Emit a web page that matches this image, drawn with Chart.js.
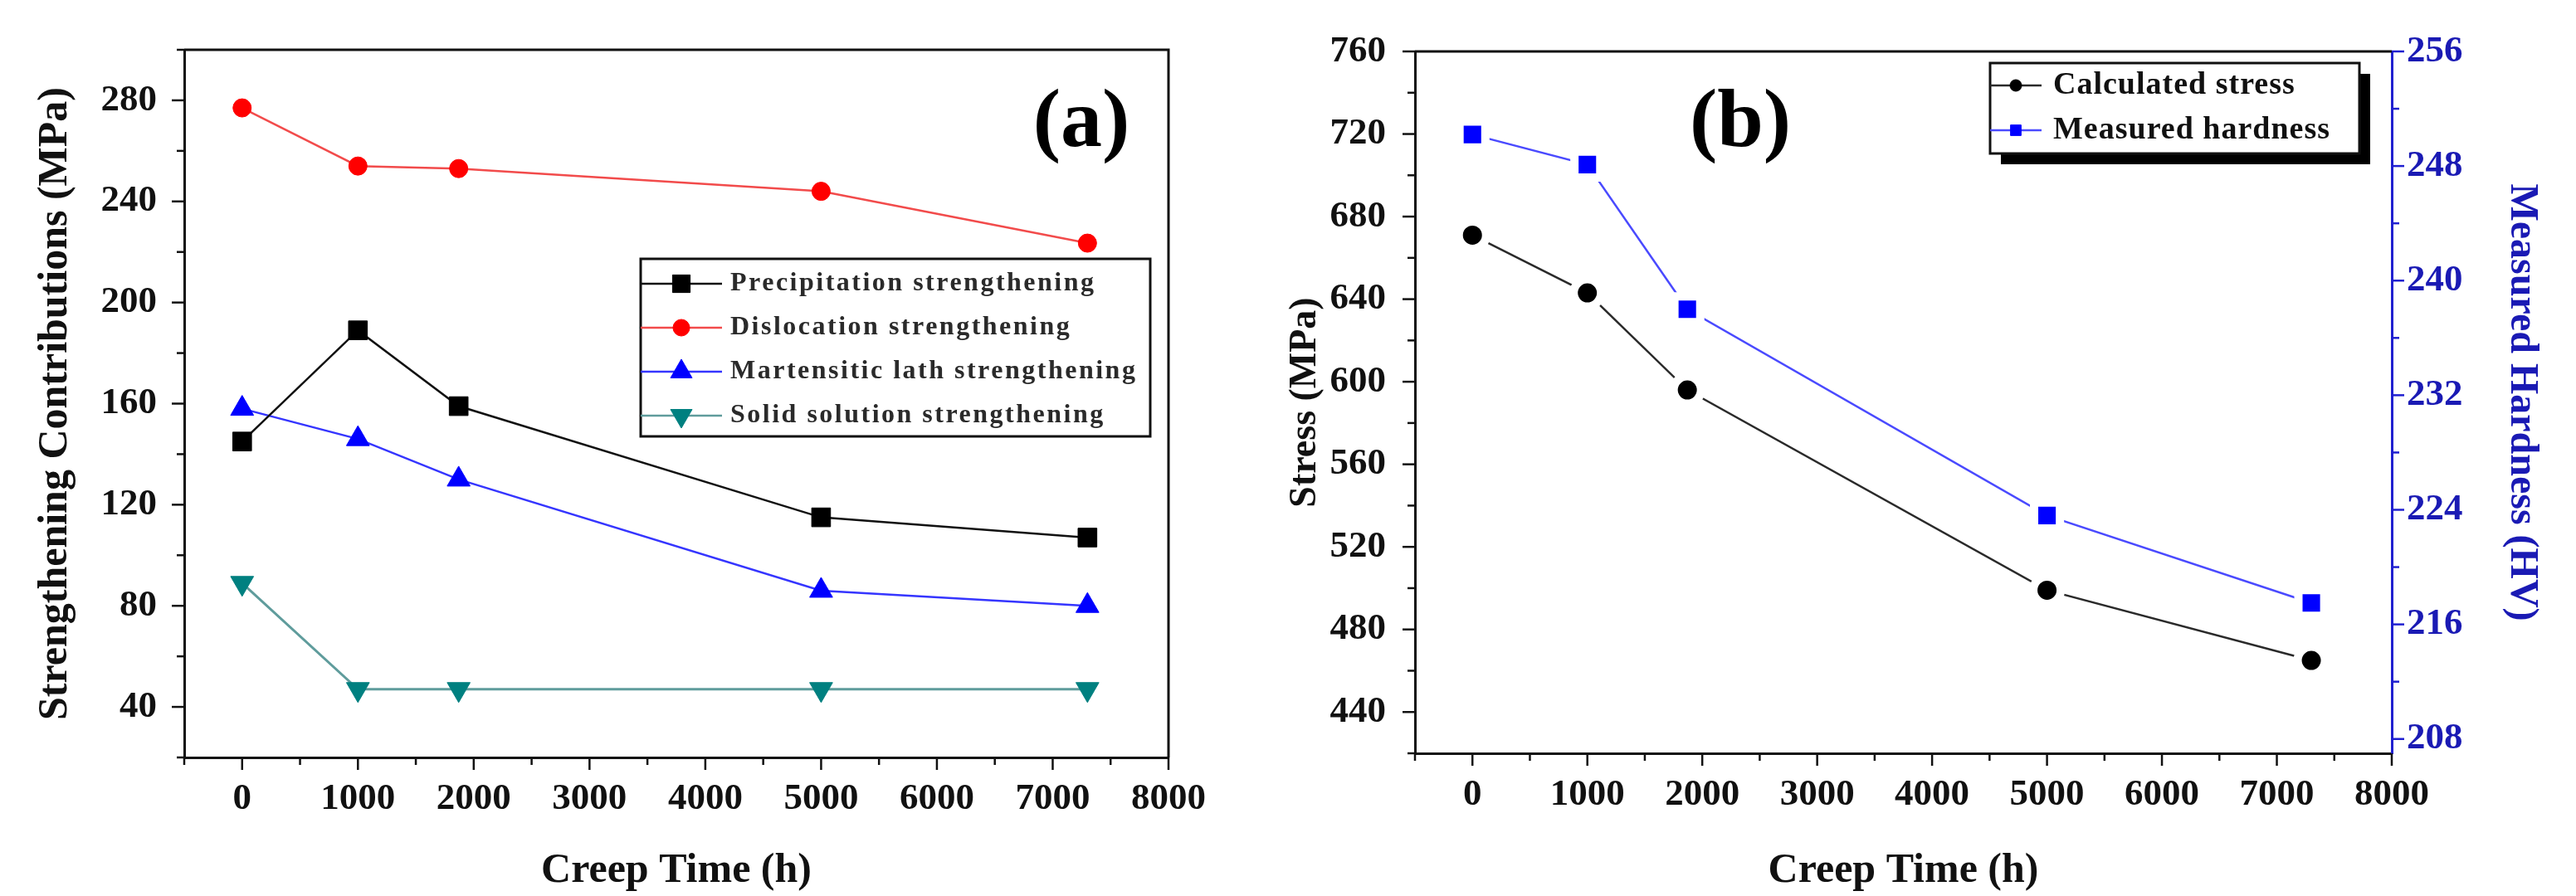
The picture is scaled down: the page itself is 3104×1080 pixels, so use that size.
<!DOCTYPE html>
<html>
<head>
<meta charset="utf-8">
<script src="https://cdn.jsdelivr.net/npm/chart.js@4.4.1/dist/chart.umd.min.js"></script>
<style>
    html, body { margin: 0; padding: 0; background: #fff; }
    #wrap { position: relative; width: 3104px; height: 1080px; overflow: hidden; }
    #chart-a { position: absolute; left: 0; top: 0; }
    #chart-b { position: absolute; left: 1500px; top: 0; }
</style>
</head>
<body>
<div id="wrap">
    <canvas id="chart-a" width="1470" height="1080"></canvas>
    <canvas id="chart-b" width="1604" height="1080"></canvas>
</div>
<script>
// data
const creepTime = [0, 1000, 1870, 5000, 7300];

const precipitation = [145, 189, 159, 115, 107];
const dislocation = [277, 254, 253, 244, 223.5];
const martensitic = [158, 146, 130, 86, 80];
const solidSolution = [89, 47, 47, 47, 47];

const calcStress = [671, 643, 596, 499, 465];
const hardness = [250.2, 248.1, 238.0, 223.6, 217.5];

// axis ticks
const timeTicks = [0, 1000, 2000, 3000, 4000, 5000, 6000, 7000, 8000];
const timeMinor = [-500, 500, 1500, 2500, 3500, 4500, 5500, 6500, 7500];
const contribTicks = [40, 80, 120, 160, 200, 240, 280];
const contribMinor = [20, 60, 100, 140, 180, 220, 260, 300];
const stressTicks = [440, 480, 520, 560, 600, 640, 680, 720, 760];
const stressMinor = [420, 460, 500, 540, 580, 620, 660, 700, 740];
const hardTicks = [208, 216, 224, 232, 240, 248, 256];
const hardMinor = [212, 220, 228, 236, 244, 252];

const serif = "'Liberation Serif', 'Times New Roman', serif";
const BLUE_AX = '#1a1ab4';

const pts = (ys) => creepTime.map((t, i) => ({ x: t, y: ys[i] }));
const setTicks = (list) => (s) => { s.ticks = list.map(v => ({ value: v })); };
const plain = (v) => String(v);

// ticks drawn outward, long for major and short for minor
const axisTicks = {
    id: 'axisTicks',
    afterDraw(chart, args, o) {
        const ctx = chart.ctx, a = chart.chartArea;
        ctx.save();
        o.axes.forEach(ax => {
            const s = chart.scales[ax.id];
            ctx.strokeStyle = ax.color;
            ctx.lineWidth = 2.5;
            [[ax.major, 15], [ax.minor, 9]].forEach(([vals, len]) => {
                vals.forEach(v => {
                    const p = s.getPixelForValue(v);
                    ctx.beginPath();
                    if (ax.side === 'bottom') { ctx.moveTo(p, a.bottom); ctx.lineTo(p, a.bottom + len); }
                    else if (ax.side === 'left') { ctx.moveTo(a.left, p); ctx.lineTo(a.left - len, p); }
                    else { ctx.moveTo(a.right, p); ctx.lineTo(a.right + len, p); }
                    ctx.stroke();
                });
            });
        });
        ctx.restore();
    }
};

// top edge (and right edge for panel a)
const frame = {
    id: 'frame',
    afterDraw(chart, args, o) {
        const ctx = chart.ctx, a = chart.chartArea;
        ctx.save();
        ctx.strokeStyle = '#111';
        ctx.lineWidth = 3;
        ctx.beginPath();
        ctx.moveTo(a.left, a.top);
        ctx.lineTo(a.right, a.top);
        if (o.right) ctx.lineTo(a.right, a.bottom);
        ctx.stroke();
        ctx.restore();
    }
};

const panelLabel = {
    id: 'panelLabel',
    afterDraw(chart, args, o) {
        const ctx = chart.ctx;
        ctx.save();
        ctx.font = 'bold 100px ' + serif;
        ctx.fillStyle = '#000';
        ctx.textAlign = 'center';
        ctx.textBaseline = 'middle';
        ctx.fillText(o.text, o.x, o.y);
        ctx.restore();
    }
};

const boxLegend = {
    id: 'boxLegend',
    afterDraw(chart, args, o) {
        const ctx = chart.ctx;
        ctx.save();
        if (o.shadow) {
            ctx.fillStyle = '#000';
            ctx.fillRect(o.x + o.shadow, o.y + o.shadow, o.w, o.h);
        }
        ctx.fillStyle = '#fff';
        ctx.fillRect(o.x, o.y, o.w, o.h);
        ctx.strokeStyle = '#111';
        ctx.lineWidth = 3;
        ctx.strokeRect(o.x, o.y, o.w, o.h);
        ctx.font = o.font;
        ctx.letterSpacing = o.spacing;
        ctx.textBaseline = 'middle';
        ctx.textAlign = 'left';
        chart.data.datasets.forEach((ds, i) => {
            const cy = o.y + o.firstRow + i * o.rowH;
            ctx.strokeStyle = ds.borderColor;
            ctx.lineWidth = 2.5;
            ctx.beginPath();
            ctx.moveTo(o.x, cy);
            ctx.lineTo(o.x + o.lineW, cy);
            ctx.stroke();
            ctx.fillStyle = ds.pointBackgroundColor;
            ctx.strokeStyle = ds.pointBackgroundColor;
            ctx.lineWidth = 1;
            Chart.helpers.drawPoint(ctx, {
                pointStyle: ds.pointStyle, radius: ds.legendRadius,
                rotation: ds.pointRotation || 0, borderWidth: 1
            }, o.x + o.lineW / 2, cy);
            ctx.fillStyle = o.color;
            ctx.fillText(ds.label, o.x + o.lineW + o.gap, cy);
        });
        ctx.restore();
    }
};

const tickFont = { family: serif, size: 45, weight: 'bold' };
const titleFont = { family: serif, size: 50, weight: 'bold' };

function xAxis(height) {
    return {
        type: 'linear', min: -500, max: 8000,
        afterBuildTicks: setTicks(timeTicks),
        afterFit: s => { s.height = height; s.paddingLeft = 0; s.paddingRight = 0; },
        grid: { display: false, drawTicks: false },
        border: { display: true, color: '#111', width: 3 },
        ticks: { font: tickFont, color: '#111', padding: 23, maxRotation: 0, autoSkip: false, callback: plain },
        title: { display: true, text: 'Creep Time (h)', font: titleFont, color: '#111', padding: { top: 0, bottom: 0 } }
    };
}

// ---------- panel (a) ----------
new Chart(document.getElementById('chart-a'), {
    type: 'line',
    data: {
        datasets: [
            { label: 'Precipitation strengthening', data: pts(precipitation), borderColor: '#111', borderWidth: 2.5,
              pointStyle: 'rect', pointRadius: 16, pointBackgroundColor: '#000', pointBorderColor: '#000', pointBorderWidth: 1, legendRadius: 15 },
            { label: 'Dislocation strengthening', data: pts(dislocation), borderColor: '#f24b4b', borderWidth: 2.5,
              pointStyle: 'circle', pointRadius: 11, pointBackgroundColor: '#ff0000', pointBorderColor: '#ff0000', pointBorderWidth: 1, legendRadius: 10 },
            { label: 'Martensitic lath strengthening', data: pts(martensitic), borderColor: '#3535ff', borderWidth: 2.5,
              pointStyle: 'triangle', pointRadius: 16, pointBackgroundColor: '#0000ff', pointBorderColor: '#0000ff', pointBorderWidth: 1, legendRadius: 15 },
            { label: 'Solid solution strengthening', data: pts(solidSolution), borderColor: '#5f9c9c', borderWidth: 3,
              pointStyle: 'triangle', pointRotation: 180, pointRadius: 16, pointBackgroundColor: '#008080', pointBorderColor: '#008080', pointBorderWidth: 1, legendRadius: 15 }
        ]
    },
    options: {
        responsive: false, animation: false, events: [],
        layout: { padding: { top: 43, right: 62, bottom: 0, left: 0 } },
        plugins: {
            legend: { display: false }, tooltip: { enabled: false },
            axisTicks: { axes: [
                { id: 'x', side: 'bottom', major: timeTicks, minor: timeMinor, color: '#111' },
                { id: 'y', side: 'left', major: contribTicks, minor: contribMinor, color: '#111' }
            ] },
            frame: { right: true },
            panelLabel: { text: '(a)', x: 1303, y: 150 },
            boxLegend: { x: 772, y: 312, w: 614, h: 214, firstRow: 30, rowH: 53, lineW: 98, gap: 10,
                         font: 'bold 32px ' + serif, spacing: '2.5px', color: '#2a2a2a', shadow: 0 }
        },
        scales: {
            x: xAxis(167),
            y: {
                type: 'linear', min: 20, max: 300,
                afterBuildTicks: setTicks(contribTicks),
                afterFit: s => { s.width = 222; },
                grid: { display: false, drawTicks: false },
                border: { display: true, color: '#111', width: 3 },
                ticks: { font: tickFont, color: '#111', padding: 33, callback: plain },
                title: { display: true, text: 'Strengthening Contributions (MPa)', font: titleFont, color: '#111', padding: { top: 37, bottom: 0 } }
            }
        }
    },
    plugins: [axisTicks, frame, panelLabel, boxLegend]
});

// ---------- panel (b) ----------
new Chart(document.getElementById('chart-b'), {
    type: 'line',
    data: {
        datasets: [
            { label: 'Calculated stress', data: pts(calcStress), yAxisID: 'y', borderColor: '#2a2a2a', borderWidth: 2.5,
              pointStyle: 'circle', pointRadius: 16.5, pointBackgroundColor: '#000', pointBorderColor: '#fff', pointBorderWidth: 10, legendRadius: 7 },
            { label: 'Measured hardness', data: pts(hardness), yAxisID: 'y2', borderColor: '#4a4aff', borderWidth: 2.5,
              pointStyle: 'rect', pointRadius: 22, pointBackgroundColor: '#0000ff', pointBorderColor: '#fff', pointBorderWidth: 10, legendRadius: 9 }
        ]
    },
    options: {
        responsive: false, animation: false, events: [],
        layout: { padding: { top: 47, right: 0, bottom: 0, left: 0 } },
        plugins: {
            legend: { display: false }, tooltip: { enabled: false },
            axisTicks: { axes: [
                { id: 'x', side: 'bottom', major: timeTicks, minor: timeMinor, color: '#111' },
                { id: 'y', side: 'left', major: stressTicks, minor: stressMinor, color: '#111' },
                { id: 'y2', side: 'right', major: hardTicks, minor: hardMinor, color: '#2020d0' }
            ] },
            frame: { right: false },
            panelLabel: { text: '(b)', x: 597, y: 150 },
            boxLegend: { x: 898, y: 76, w: 445, h: 109, firstRow: 27, rowH: 54, lineW: 62, gap: 14,
                         font: 'bold 38px ' + serif, spacing: '1px', color: '#111', shadow: 13 }
        },
        scales: {
            x: xAxis(172),
            y: {
                type: 'linear', position: 'left', min: 420, max: 760,
                afterBuildTicks: setTicks(stressTicks),
                afterFit: s => { s.width = 205; },
                grid: { display: false, drawTicks: false },
                border: { display: true, color: '#111', width: 3 },
                ticks: { font: tickFont, color: '#111', padding: 35, callback: plain },
                title: { display: true, text: 'Stress (MPa)', font: { family: serif, size: 46, weight: 'bold' }, color: '#111', padding: { top: 46, bottom: 0 } }
            },
            y2: {
                type: 'linear', position: 'right', min: 207, max: 256,
                afterBuildTicks: setTicks(hardTicks),
                afterFit: s => { s.width = 222; },
                grid: { display: false, drawTicks: false },
                border: { display: true, color: '#2020d0', width: 3 },
                ticks: { font: tickFont, color: BLUE_AX, padding: 18, callback: plain },
                title: { display: true, text: 'Measured Hardness (HV)', font: { family: serif, size: 48, weight: 'bold' }, color: BLUE_AX, padding: { top: 37, bottom: 0 } }
            }
        }
    },
    plugins: [axisTicks, frame, panelLabel, boxLegend]
});
</script>
</body>
</html>
